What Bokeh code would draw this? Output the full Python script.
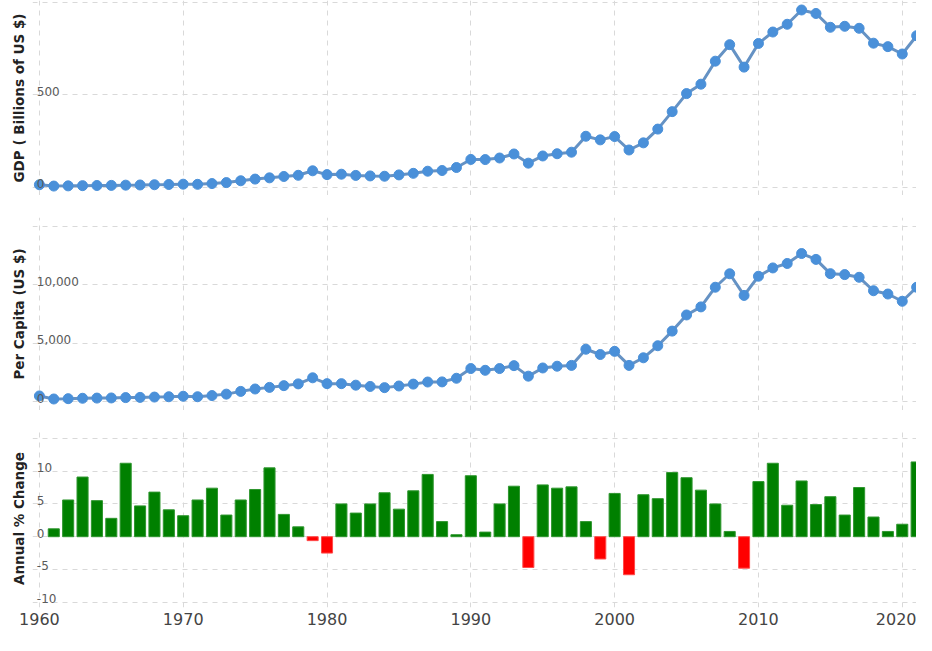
from bokeh.plotting import figure
from bokeh.layouts import column
from bokeh.models import ColumnDataSource, FixedTicker, Range1d
from bokeh.core.properties import value
from bokeh.embed import file_html
from bokeh.resources import INLINE

# ---------------- data ----------------
years = list(range(1960, 2022))
gdp_billions = [14.0, 7.0, 8.0, 9.2, 10.0, 10.6, 11.9, 12.8, 14.1, 15.4,
                17.1, 16.3, 20.4, 25.7, 35.6, 44.6, 51.3, 58.7, 65.1, 89.4,
                68.8, 71.0, 64.5, 61.7, 60.0, 67.2, 75.7, 87.2, 90.9, 107.1,
                150.7, 150.0, 158.5, 180.2, 130.7, 169.5, 181.5, 189.8, 275.9, 256.4,
                274.3, 201.8, 240.3, 314.6, 408.9, 506.3, 557.1, 681.3, 770.5, 649.3,
                777.0, 838.8, 880.6, 957.8, 938.9, 864.3, 869.7, 858.9, 778.5, 759.9,
                720.1, 819.0]
per_capita = [509, 249, 276, 310, 327, 337, 368, 386, 414, 440,
              484, 441, 540, 664, 898, 1103, 1241, 1390, 1540, 2060,
              1560, 1560, 1430, 1320, 1220, 1360, 1520, 1700, 1710, 2020,
              2850, 2700, 2850, 3100, 2200, 2900, 3050, 3120, 4500, 4050,
              4320, 3120, 3770, 4800, 6050, 7430, 8120, 9800, 10950, 9100,
              10740, 11450, 11830, 12680, 12180, 10960, 10880, 10650, 9500, 9220,
              8600, 9800]
growth_years = list(range(1961, 2022))
growth_pct = [1.2, 5.6, 9.1, 5.5, 2.8, 11.2, 4.7, 6.8, 4.1,
              3.2, 5.6, 7.4, 3.3, 5.6, 7.2, 10.5, 3.4, 1.5, -0.6,
              -2.5, 5.0, 3.6, 5.0, 6.7, 4.2, 7.0, 9.5, 2.3, 0.3,
              9.3, 0.7, 5.0, 7.7, -4.7, 7.9, 7.4, 7.6, 2.3, -3.4,
              6.6, -5.8, 6.4, 5.8, 9.8, 9.0, 7.1, 5.0, 0.8, -4.8,
              8.4, 11.2, 4.8, 8.5, 4.9, 6.1, 3.3, 7.5, 3.0, 0.8,
              1.9, 11.4]

x_ticks = [1960, 1970, 1980, 1990, 2000, 2010, 2020]
gdp_grid = [0, 500, 1000]
gdp_labels_at = [0, 500]
gdp_labels = ["0", "500"]
pc_grid = [0, 5000, 10000, 15000]
pc_labels_at = [0, 5000, 10000]
pc_labels = ["0", "5,000", "10,000"]
gr_grid = [-10, -5, 0, 5, 10, 15]
gr_labels_at = [-10, -5, 0, 5, 10]
gr_labels = ["-10", "-5", "0", "5", "10"]

# ---------------- style ----------------
X0, X1 = 1959.52, 2020.99
FRAME_W = 884
BORDER_L = 32
LINE_COL = "#6592c4"
DOT_COL = "#4a90d9"
GRID_COL = "#d9d9d9"
TITLE_FONT = "DejaVu Sans"
TICK_FONT = "DejaVu Sans"


def make_panel(frame_h, y_range, top_border, title, grid_ticks, show_x):
    p = figure(frame_width=FRAME_W, frame_height=frame_h,
               x_range=Range1d(X0, X1), y_range=Range1d(*y_range),
               output_backend="svg", toolbar_location=None,
               min_border_left=BORDER_L, min_border_right=0,
               min_border_top=top_border, min_border_bottom=0)
    p.outline_line_color = None
    p.background_fill_color = "white"
    p.border_fill_color = "white"
    # y axis: title only
    p.yaxis.ticker = FixedTicker(ticks=[])
    p.yaxis.axis_line_color = None
    p.yaxis.major_tick_out = 0
    p.yaxis.minor_tick_out = 0
    p.yaxis.major_label_standoff = 0
    p.yaxis.axis_label = title
    p.yaxis.axis_label_text_font = TITLE_FONT
    p.yaxis.axis_label_text_font_style = "bold"
    p.yaxis.axis_label_text_font_size = "13.5px"
    p.yaxis.axis_label_text_color = "#222222"
    p.yaxis.axis_label_standoff = 6
    # grids
    p.ygrid.ticker = FixedTicker(ticks=grid_ticks)
    p.xgrid.ticker = FixedTicker(ticks=x_ticks)
    for g in (p.xgrid, p.ygrid):
        g.grid_line_color = GRID_COL
        g.grid_line_dash = "5 5"
        g.grid_line_width = 1
    if show_x:
        p.xaxis.ticker = FixedTicker(ticks=x_ticks)
        p.xaxis.axis_line_color = None
        p.xaxis.major_tick_line_color = None
        p.xaxis.minor_tick_line_color = None
        p.xaxis.major_tick_out = 0
        p.xaxis.minor_tick_out = 0
        p.xaxis.major_label_standoff = 5
        p.xaxis.major_label_text_font = TICK_FONT
        p.xaxis.major_label_text_font_size = "16px"
        p.xaxis.major_label_text_color = "#444444"
    else:
        p.xaxis.visible = False
    return p


def inner_labels(p, at, labels):
    src = ColumnDataSource(dict(x=[X0 + 0.3] * len(at), y=at, t=labels))
    p.text(x="x", y="y", text="t", source=src,
           text_font=value(TICK_FONT), text_font_size="12px",
           text_color="#5a5a5a", text_align="left", text_baseline="bottom",
           y_offset=1)


# ---------------- panel 1: GDP ----------------
p1 = make_panel(195, (-44, 1009), 0, "GDP ( Billions of US $)", gdp_grid, False)
p1.line(years, gdp_billions, line_color=LINE_COL, line_width=3)
p1.scatter(years, gdp_billions, marker="circle", size=10,
           fill_color=DOT_COL, line_color=DOT_COL)
inner_labels(p1, gdp_labels_at, gdp_labels)

# ---------------- panel 2: per capita ----------------
p2 = make_panel(193, (-735, 15760), 22, "Per Capita (US $)", pc_grid, False)
p2.line(years, per_capita, line_color=LINE_COL, line_width=3)
p2.scatter(years, per_capita, marker="circle", size=10,
           fill_color=DOT_COL, line_color=DOT_COL)
inner_labels(p2, pc_labels_at, pc_labels)

# ---------------- panel 3: annual % change ----------------
p3 = make_panel(178, (-10.8, 16.35), 19, "Annual % Change", gr_grid, True)
fill_cols = ["#008000" if v >= 0 else "#ff0000" for v in growth_pct]
edge_cols = ["#2f962f" if v >= 0 else "#ff4a4a" for v in growth_pct]
bar_src = ColumnDataSource(dict(x=growth_years, top=growth_pct,
                                fc=fill_cols, lc=edge_cols))
p3.vbar(x="x", top="top", bottom=0, width=0.77, source=bar_src,
        fill_color="fc", line_color="lc", line_width=1)
inner_labels(p3, gr_labels_at, gr_labels)

layout = column(p1, p2, p3, spacing=0)

with open("out.html", "w") as f:
    f.write(file_html(layout, INLINE))
